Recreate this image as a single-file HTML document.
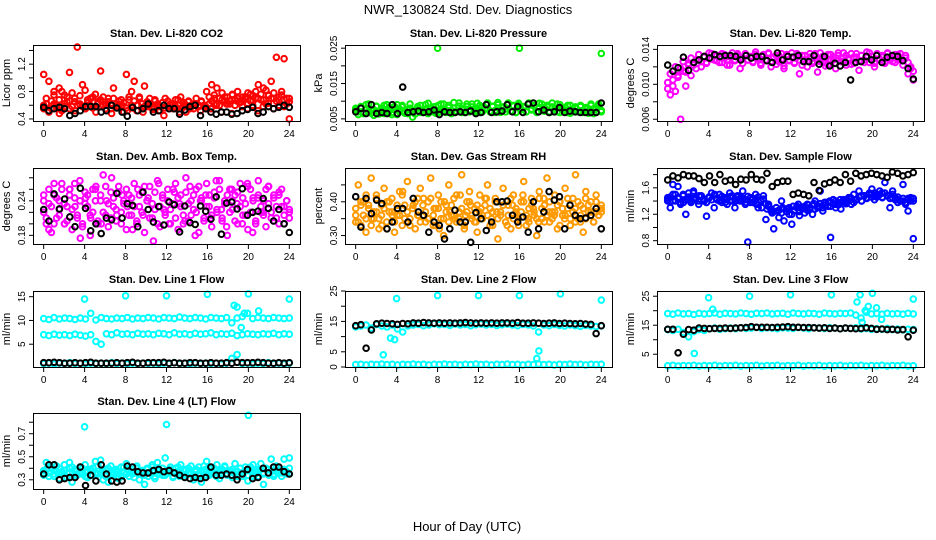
<!DOCTYPE html>
<html><head><meta charset="utf-8">
<style>
html,body{margin:0;padding:0;background:#fff;}
svg{display:block;font-family:"Liberation Sans",sans-serif;}
</style></head>
<body>
<svg id="chart" width="936" height="540" viewBox="0 0 936 540">
<rect width="936" height="540" fill="#fff"/>
<text x="468" y="14" text-anchor="middle" font-size="13">NWR_130824  Std. Dev. Diagnostics</text>
<text x="467" y="531" text-anchor="middle" font-size="13">Hour of Day (UTC)</text>
</svg>
<script>
// ---- data ----
const xTicks = [0,4,8,12,16,20,24];

const co2Red = [1.05,0.62,0.95,0.55,0.8,0.6,0.85,0.52,0.75,0.65,1.08,0.58,0.7,1.45,0.62,0.9,0.55,0.68,0.6,0.72,0.58,0.65,1.1,0.6,0.55,0.7,0.62,0.85,0.58,0.66,0.6,0.5,1.05,0.68,0.8,0.95,0.6,0.72,0.55,0.88,0.62,0.7,0.58,0.66,0.6,0.52,0.64,0.7,0.58,0.62,0.55,0.68,0.6,0.72,0.58,0.5,0.65,0.6,0.55,0.62,0.58,0.66,0.6,0.55,0.62,0.9,0.7,0.85,0.6,0.68,0.72,0.62,0.66,0.75,0.6,0.7,0.64,0.68,0.72,0.62,0.76,0.66,0.7,0.9,0.68,0.85,0.62,0.75,0.95,0.7,1.3,0.68,0.8,1.28,0.7,0.4];
const co2RedB = [0.55,0.5,0.62,0.48,0.58,0.66,0.52,0.6,0.55,0.7,0.5,0.58,0.62,0.48,0.57,0.6,0.52,0.56,0.6,0.5,0.58,0.54,0.6,0.45,0.55,0.58,0.5,0.62,0.55,0.6,0.52,0.58,0.55,0.6,0.5,0.62,0.48,0.66,0.58,0.55,0.6,0.52,0.58,0.63,0.55,0.6,0.58,0.65];
const co2RedC = [0.6,0.7,0.52,0.66,0.75,0.58,0.68,0.8,0.62,0.72,0.55,0.78,0.65,0.6,0.74,0.58,0.82,0.64,0.7,0.56,0.76,0.62,0.68,0.72,0.6,0.65,0.55,0.7,0.62,0.58,0.68,0.64,0.56,0.72,0.6,0.66,0.52,0.7,0.62,0.58,0.65,0.6,0.55,0.68,0.62,0.58,0.64,0.56,0.66,0.6,0.62,0.58,0.68,0.55,0.64,0.6,0.66,0.58,0.62,0.7,0.6,0.65,0.58,0.8,0.72,0.66,0.75,0.62,0.7,0.78,0.66,0.72,0.62,0.76,0.68,0.8,0.64,0.72,0.7,0.78,0.66,0.74,0.8,0.7,0.76,0.68,0.82,0.74,0.7,0.78,0.66,0.72,0.75,0.68,0.62,0.7];
const co2Black = [0.57,0.52,0.55,0.57,0.55,0.45,0.48,0.52,0.58,0.58,0.58,0.5,0.52,0.6,0.56,0.5,0.44,0.57,0.52,0.55,0.62,0.5,0.52,0.6,0.55,0.55,0.47,0.53,0.58,0.6,0.45,0.55,0.5,0.47,0.5,0.5,0.47,0.48,0.52,0.54,0.57,0.48,0.5,0.58,0.55,0.57,0.6,0.57];

const presGreen = [0.008,0.007,0.0085,0.0065,0.009,0.007,0.0075,0.006,0.0085,0.007,0.008,0.0065,0.009,0.0072,0.0068,0.0085,0.0062,0.0078,0.0088,0.007,0.0065,0.008,0.0055,0.0075,0.0085,0.0068,0.0072,0.009,0.0065,0.008,0.007,0.0085,0.0068,0.0092,0.0075,0.007,0.0088,0.0065,0.008,0.0072,0.0095,0.0068,0.0078,0.0085,0.007,0.0092,0.0075,0.0068,0.0088,0.007,0.008,0.0095,0.0072,0.0085,0.0068,0.009,0.0075,0.0082,0.007,0.0095,0.0072,0.0088,0.0068,0.009,0.0078,0.0085,0.007,0.0095,0.0075,0.0088,0.007,0.0082,0.0092,0.0072,0.0085,0.0068,0.0095,0.0078,0.007,0.009,0.0075,0.0082,0.0068,0.0088,0.0072,0.008,0.007,0.0085,0.0068,0.0078,0.0072,0.0088,0.0065,0.008,0.0092,0.007];
const presGreenB = [0.0075,0.0062,0.0082,0.0068,0.0078,0.0092,0.0066,0.0076,0.0086,0.0064,0.0074,0.0088,0.0068,0.0082,0.0062,0.0078,0.009,0.007,0.0084,0.0066,0.0076,0.0092,0.0072,0.0064,0.0082,0.0088,0.0068,0.0078,0.0094,0.0072,0.0084,0.0066,0.0088,0.0076,0.0092,0.0068,0.0082,0.0074,0.0096,0.007,0.0086,0.0078,0.0068,0.0092,0.0076,0.0084,0.0072,0.0094,0.0068,0.0082,0.0078,0.0092,0.007,0.0086,0.0074,0.0096,0.0068,0.0084,0.0078,0.0092,0.0072,0.0086,0.0068,0.0094,0.0076,0.0082,0.007,0.0092,0.0078,0.0086,0.0068,0.0094,0.0074,0.0082,0.0088,0.007,0.0084,0.0076,0.0092,0.0068,0.0082,0.0074,0.0088,0.0066,0.0078,0.0084,0.007,0.0088,0.0074,0.0082,0.0066,0.0092,0.0076,0.0068,0.0086,0.0074];
const presGreenOutHours = [8,16,24];
const presGreenOut = [0.025,0.025,0.0235];
const presBlack = [0.007,0.008,0.0065,0.009,0.0065,0.0068,0.0065,0.009,0.0065,0.014,0.0068,0.007,0.0072,0.0068,0.007,0.0075,0.0062,0.007,0.0068,0.0068,0.007,0.0068,0.0072,0.0065,0.0068,0.009,0.0068,0.007,0.0072,0.009,0.007,0.0085,0.0068,0.0092,0.0095,0.007,0.0075,0.0068,0.007,0.0082,0.0068,0.0072,0.007,0.0068,0.0068,0.0068,0.0068,0.0095];

const tempMag = [0.0095,0.0088,0.0105,0.0092,0.011,0.006,0.0115,0.0098,0.0122,0.011,0.0125,0.0118,0.0128,0.012,0.0132,0.0125,0.013,0.0135,0.0128,0.0133,0.0125,0.0135,0.013,0.0122,0.0132,0.0136,0.0128,0.0133,0.0118,0.013,0.0135,0.0128,0.0132,0.0125,0.0137,0.013,0.0122,0.0134,0.0128,0.0136,0.012,0.013,0.0133,0.0126,0.0135,0.0118,0.0132,0.0128,0.0136,0.0124,0.0131,0.0112,0.0133,0.0128,0.012,0.0135,0.0126,0.0132,0.0114,0.0136,0.0125,0.013,0.0122,0.0134,0.0128,0.0118,0.0133,0.0126,0.0136,0.0122,0.013,0.0135,0.0124,0.0131,0.0116,0.0133,0.0128,0.0137,0.0125,0.0132,0.012,0.0135,0.0128,0.0133,0.0124,0.0136,0.013,0.0126,0.0134,0.0128,0.0135,0.0122,0.013,0.0112,0.0118,0.0105];
const tempMagB = [0.0102,0.0112,0.0098,0.012,0.0108,0.0118,0.0126,0.0114,0.0124,0.013,0.0122,0.0128,0.0134,0.0126,0.0131,0.0124,0.0136,0.0129,0.0133,0.0127,0.0131,0.0125,0.0134,0.0128,0.0122,0.0132,0.0127,0.0135,0.013,0.0124,0.0133,0.0128,0.0131,0.0126,0.0134,0.0129,0.0124,0.0132,0.0127,0.0135,0.0126,0.0131,0.0123,0.0133,0.0128,0.0121,0.0134,0.0127,0.0131,0.0125,0.0135,0.0128,0.0122,0.0133,0.0127,0.0131,0.0124,0.0135,0.0129,0.0126,0.0132,0.0121,0.0134,0.0128,0.0131,0.0124,0.0136,0.013,0.0126,0.0133,0.0128,0.0123,0.0131,0.0135,0.0127,0.0133,0.0125,0.0131,0.0136,0.0128,0.0124,0.0134,0.0129,0.0131,0.0126,0.0135,0.0128,0.0132,0.0125,0.0134,0.013,0.0127,0.0133,0.0125,0.012,0.0115];
const tempBlack = [0.0122,0.0115,0.0119,0.0131,0.0116,0.0125,0.0128,0.0132,0.013,0.0134,0.0132,0.0133,0.0133,0.0132,0.0128,0.0133,0.013,0.0132,0.0132,0.0127,0.0125,0.0136,0.0128,0.0132,0.0131,0.0133,0.0126,0.0126,0.0133,0.0123,0.0132,0.0121,0.0124,0.0121,0.0125,0.0105,0.0125,0.0126,0.0132,0.0128,0.0133,0.0125,0.0131,0.0133,0.0132,0.0127,0.0118,0.0106];

const ambMag = [0.22,0.2,0.235,0.185,0.25,0.21,0.24,0.27,0.2,0.23,0.26,0.19,0.245,0.215,0.275,0.2,0.235,0.25,0.18,0.22,0.26,0.205,0.24,0.285,0.215,0.195,0.255,0.23,0.205,0.265,0.22,0.24,0.19,0.25,0.215,0.27,0.2,0.23,0.255,0.185,0.24,0.265,0.21,0.225,0.275,0.195,0.245,0.22,0.26,0.2,0.235,0.27,0.19,0.25,0.215,0.28,0.205,0.24,0.225,0.26,0.185,0.245,0.21,0.27,0.23,0.195,0.255,0.22,0.275,0.205,0.24,0.18,0.26,0.225,0.25,0.2,0.27,0.215,0.235,0.19,0.26,0.245,0.205,0.275,0.22,0.24,0.195,0.265,0.21,0.25,0.23,0.2,0.26,0.215,0.24,0.22];
const ambMagB = [0.25,0.19,0.27,0.225,0.2,0.26,0.23,0.175,0.245,0.21,0.265,0.2,0.24,0.28,0.215,0.25,0.23,0.19,0.26,0.215,0.245,0.17,0.27,0.225,0.2,0.255,0.235,0.205,0.265,0.18,0.24,0.25,0.21,0.275,0.225,0.195,0.26,0.235,0.2,0.27,0.185,0.245,0.22,0.265,0.205,0.25,0.23,0.21];
const ambMagC = [0.24,0.21,0.26,0.23,0.2,0.245,0.215,0.26,0.235,0.205,0.25,0.225,0.27,0.21,0.24,0.195,0.255,0.23,0.215,0.26,0.24,0.2,0.25,0.22,0.265,0.235,0.21,0.245,0.225,0.255,0.2,0.235,0.26,0.215,0.245,0.23,0.205,0.25,0.22,0.265,0.24,0.21,0.235,0.255,0.2,0.23,0.25,0.215,0.24,0.225,0.26,0.21,0.245,0.23,0.2,0.255,0.235,0.215,0.25,0.22,0.265,0.24,0.205,0.23,0.25,0.215,0.245,0.225,0.26,0.21,0.235,0.25,0.22,0.24,0.205,0.255,0.23,0.245,0.215,0.265,0.22,0.24,0.2,0.25,0.23,0.215,0.26,0.235,0.22,0.245,0.21,0.255,0.23,0.2,0.24,0.225];
const ambBlack = [0.225,0.205,0.252,0.226,0.243,0.212,0.195,0.262,0.227,0.188,0.2,0.183,0.21,0.207,0.253,0.21,0.235,0.232,0.195,0.255,0.225,0.203,0.23,0.198,0.238,0.233,0.186,0.231,0.202,0.199,0.231,0.222,0.208,0.247,0.182,0.236,0.238,0.226,0.261,0.215,0.22,0.222,0.244,0.227,0.205,0.225,0.2,0.185];

const rhOrange = [0.36,0.45,0.33,0.4,0.31,0.38,0.47,0.35,0.42,0.32,0.39,0.44,0.34,0.37,0.41,0.31,0.36,0.43,0.33,0.39,0.46,0.35,0.38,0.32,0.41,0.44,0.36,0.34,0.4,0.47,0.33,0.38,0.42,0.35,0.3,0.39,0.45,0.36,0.41,0.34,0.37,0.48,0.32,0.4,0.43,0.35,0.38,0.31,0.42,0.36,0.39,0.45,0.33,0.37,0.41,0.29,0.36,0.44,0.34,0.39,0.32,0.42,0.37,0.35,0.4,0.46,0.33,0.38,0.41,0.36,0.3,0.43,0.35,0.39,0.47,0.34,0.37,0.42,0.32,0.4,0.36,0.44,0.38,0.33,0.41,0.48,0.35,0.39,0.31,0.43,0.37,0.4,0.34,0.42,0.36,0.38];
const rhOrangeB = [0.34,0.39,0.42,0.35,0.37,0.33,0.4,0.36,0.38,0.43,0.34,0.39,0.36,0.41,0.35,0.38,0.32,0.4,0.37,0.35,0.42,0.36,0.39,0.34,0.38,0.41,0.35,0.37,0.4,0.33,0.39,0.36,0.42,0.35,0.38,0.34,0.41,0.37,0.36,0.4,0.35,0.39,0.38,0.34,0.41,0.36,0.37,0.39];
const rhOrangeC = [0.38,0.34,0.4,0.36,0.35,0.39,0.33,0.37,0.41,0.35,0.36,0.38,0.32,0.4,0.37,0.34,0.39,0.36,0.42,0.35,0.37,0.33,0.38,0.4,0.36,0.34,0.39,0.37,0.35,0.41,0.36,0.33,0.38,0.4,0.35,0.37,0.34,0.39,0.36,0.42,0.35,0.38,0.33,0.37,0.4,0.36,0.34,0.39,0.37,0.35,0.41,0.36,0.38,0.33,0.4,0.35,0.37,0.39,0.34,0.36,0.41,0.35,0.38,0.33,0.37,0.4,0.36,0.34,0.39,0.37,0.35,0.41,0.38,0.34,0.36,0.4,0.35,0.37,0.39,0.33,0.38,0.36,0.41,0.35,0.37,0.34,0.4,0.36,0.38,0.35,0.39,0.37,0.34,0.4,0.36,0.37];
const rhBlack = [0.415,0.325,0.41,0.365,0.405,0.395,0.32,0.34,0.38,0.38,0.34,0.41,0.37,0.36,0.31,0.34,0.33,0.29,0.32,0.375,0.34,0.34,0.28,0.368,0.35,0.315,0.34,0.4,0.4,0.402,0.36,0.34,0.355,0.31,0.4,0.32,0.37,0.43,0.405,0.415,0.32,0.39,0.36,0.35,0.352,0.36,0.38,0.32];

const flowBlue = [1.45,1.3,1.65,1.4,1.62,1.35,1.5,1.2,1.42,1.38,1.55,1.45,1.35,1.48,1.4,1.17,1.45,1.52,1.3,1.42,1.5,1.38,1.45,1.35,1.52,1.4,1.3,1.48,1.42,1.55,1.35,0.78,1.45,1.38,1.5,1.3,1.42,1.48,1.12,1.35,1.25,0.98,1.3,1.15,1.4,1.1,1.28,1.2,1.05,1.25,1.32,1.18,1.3,1.22,1.35,1.28,1.2,1.4,1.3,1.55,1.25,1.38,1.32,0.85,1.42,1.3,1.35,1.28,1.4,1.38,1.45,1.35,1.5,1.42,1.55,1.4,1.48,1.45,1.52,1.58,1.42,1.5,1.55,1.45,1.68,1.48,1.3,1.55,1.45,1.38,1.4,1.65,1.35,1.25,1.45,0.83];
const flowBlueB = [1.4,1.5,1.45,1.38,1.52,1.42,1.48,1.4,1.45,1.5,1.42,1.38,1.47,1.4,1.45,1.38,1.42,1.35,1.3,1.28,1.22,1.25,1.3,1.28,1.32,1.35,1.3,1.34,1.36,1.32,1.38,1.4,1.35,1.42,1.4,1.45,1.42,1.48,1.45,1.5,1.46,1.52,1.48,1.45,1.42,1.4,1.44,1.4];
const flowBlueC = [1.42,1.46,1.4,1.5,1.44,1.38,1.48,1.42,1.46,1.4,1.52,1.44,1.4,1.47,1.43,1.38,1.46,1.42,1.49,1.44,1.4,1.47,1.42,1.45,1.4,1.48,1.43,1.46,1.4,1.44,1.42,1.47,1.38,1.44,1.41,1.46,1.4,1.43,1.36,1.32,1.28,1.24,1.3,1.26,1.22,1.28,1.24,1.3,1.2,1.26,1.3,1.24,1.28,1.32,1.26,1.3,1.34,1.28,1.32,1.36,1.3,1.34,1.38,1.32,1.36,1.4,1.34,1.38,1.42,1.36,1.4,1.44,1.38,1.42,1.46,1.4,1.48,1.44,1.5,1.46,1.52,1.48,1.5,1.46,1.52,1.48,1.44,1.5,1.42,1.46,1.4,1.44,1.38,1.42,1.4,1.44];
const flowBlack = [1.72,1.78,1.75,1.8,1.78,1.78,1.74,1.68,1.78,1.68,1.8,1.7,1.72,1.65,1.73,1.72,1.8,1.73,1.72,1.82,1.62,1.68,1.7,1.7,1.5,1.52,1.5,1.48,1.68,1.56,1.66,1.68,1.72,1.68,1.8,1.7,1.82,1.78,1.8,1.82,1.8,1.78,1.76,1.84,1.82,1.78,1.8,1.83];

const l1High = [10.4,10.2,10.6,10.3,10.5,10.4,10.2,10.5,10.3,11.5,10.1,10.6,10.4,10.3,10.5,10.4,10.6,10.3,10.5,10.4,10.6,10.5,10.3,10.6,10.5,10.4,10.7,10.5,10.4,10.6,10.5,10.3,10.6,10.5,10.4,10.6,9.5,10.5,10.8,11.5,10.4,10.6,10.5,10.4,10.6,10.5,10.4,10.5];
const l1Mid = [7.0,6.8,7.1,6.9,7.0,6.8,7.1,6.9,6.7,7.0,5.6,5.0,7.2,7.0,7.4,7.1,7.2,7.0,7.3,7.1,7.2,7.0,7.3,7.2,7.0,7.4,7.1,7.2,7.0,7.3,7.1,7.2,7.4,7.0,7.2,7.1,7.3,6.8,7.0,7.2,7.1,7.0,7.2,7.1,7.3,7.0,7.2,7.1];
const l1Low = [0.9,1.0,0.8,1.0,0.9,1.1,0.9,1.0,0.8,1.0,0.9,1.0,0.9,1.1,0.9,1.0,0.8,1.0,0.9,1.0,0.9,1.0,0.8,1.0,0.9,1.1,0.9,1.0,0.8,1.0,0.9,1.0,0.9,1.0,0.8,1.0,2.0,2.8,0.9,1.0,0.8,1.0,0.9,1.1,0.9,1.0,0.8,1.0];
const l1OutHours = [4,8,12,16,18.6,18.9,19.3,19.6,20,21,24];
const l1Out = [14.5,15.2,15.2,15.5,13.2,12.8,8.5,11.5,15.6,12,14.5];
const l1Black = [1.1,1.1,1.2,1.1,1.0,1.0,1.1,1.0,1.1,1.2,1.0,1.0,1.0,1.0,1.1,1.0,1.1,1.2,1.0,1.0,1.1,1.1,1.1,1.2,1.0,1.1,1.0,1.0,1.1,1.1,1.0,1.0,1.1,1.0,1.0,1.1,1.0,1.2,1.1,1.1,1.1,1.2,1.1,1.0,1.0,1.1,1.0,1.1];

const l2High = [13.2,13.5,13.8,12.8,14.0,13.5,13.2,13.8,12.5,11.5,13.5,13.8,14.0,13.6,13.8,14.2,13.9,14.0,13.7,14.1,13.8,14.0,13.6,13.9,14.1,13.8,14.0,13.7,13.9,14.1,13.8,13.6,14.0,13.8,13.5,11.5,13.8,13.6,14.0,13.7,13.5,13.8,13.6,13.4,13.7,13.5,13.3,13.5];
const l2Low = [0.8,0.9,0.7,0.9,0.8,1.0,0.8,0.9,0.7,0.9,0.8,1.0,0.8,0.9,0.7,0.9,0.8,1.0,0.8,0.9,0.7,0.9,0.8,1.0,0.8,0.9,0.7,0.9,0.8,1.0,0.8,0.9,0.7,0.9,0.8,1.0,0.8,0.9,0.7,0.9,0.8,1.0,0.8,0.9,0.7,0.9,0.8,0.9];
const l2OutHours = [2.7,3.4,3.8,4,8,12,16,17.7,17.9,20,24];
const l2Out = [4,9.5,9,22.5,23.5,23.5,23.5,2.8,5.3,24,22];
const l2Black = [13.6,13.9,6.2,12.2,14.2,14.4,14.3,14.2,14.0,14.3,14.2,14.5,14.4,14.6,14.5,14.4,14.5,14.4,14.5,14.4,14.5,14.6,14.5,14.4,14.5,14.4,14.5,14.4,14.5,14.5,14.4,14.6,14.4,14.4,14.5,14.4,14.3,14.4,14.5,14.3,14.4,14.3,14.2,14.3,14.1,14.0,11.0,13.6];

const l3High = [19.0,18.8,19.2,18.9,19.0,18.7,19.1,18.9,19.0,19.2,18.8,19.1,19.0,18.9,19.2,19.0,18.8,19.1,19.0,19.2,18.9,19.0,19.1,18.8,19.2,19.0,18.9,19.1,19.0,18.8,19.2,19.0,18.9,19.1,19.0,19.2,18.5,17.5,19.5,18.9,19.0,18.8,19.1,18.9,19.0,18.8,19.1,18.9];
const l3Mid = [13.5,13.2,13.6,12.5,11.0,12.8,13.5,13.2,13.8,14.0,13.6,13.8,14.0,13.8,14.1,13.9,14.0,14.2,13.9,14.1,14.0,13.8,14.1,14.0,13.9,14.2,14.0,13.8,14.1,14.0,13.9,14.1,14.0,13.8,14.0,13.9,14.1,13.7,13.9,13.6,13.8,13.6,13.9,13.5,13.7,13.4,13.6,13.5];
const l3Low = [1.0,1.2,0.9,1.1,1.0,1.2,0.9,1.1,1.0,1.2,0.9,1.1,1.0,1.2,0.9,1.1,1.0,1.2,0.9,1.1,1.0,1.2,0.9,1.1,1.0,1.2,0.9,1.1,1.0,1.2,0.9,1.1,1.0,1.2,0.9,1.1,1.0,1.2,0.9,1.1,1.0,1.2,0.9,1.1,1.0,1.2,0.9,1.0];
const l3OutHours = [2.6,4,4.4,8,12,16,18.5,18.8,19.0,19.3,19.6,20,20.4,20.9,24];
const l3Out = [5.3,24.5,20.5,25,25.5,25.5,23,25.5,16,20,21.5,26,21,17,24];
const l3Black = [13.6,13.6,5.5,11.9,13.5,13.3,14.0,13.9,13.8,13.9,13.9,14.0,13.9,14.0,14.1,14.2,14.5,14.3,14.3,14.3,14.2,14.3,14.4,14.5,14.3,14.3,14.2,14.2,14.1,14.0,14.1,13.9,14.0,13.8,14.0,13.9,13.8,13.9,14.1,13.9,13.6,13.7,13.5,13.6,13.4,13.5,11.0,13.3];

const l4Cyan = [0.38,0.45,0.33,0.4,0.35,0.42,0.31,0.37,0.43,0.36,0.45,0.28,0.39,0.34,0.41,0.36,0.43,0.32,0.38,0.4,0.46,0.35,0.47,0.3,0.39,0.28,0.42,0.35,0.38,0.31,0.41,0.36,0.44,0.33,0.39,0.37,0.42,0.3,0.38,0.26,0.4,0.36,0.43,0.31,0.45,0.38,0.34,0.49,0.36,0.41,0.32,0.4,0.37,0.43,0.34,0.39,0.35,0.42,0.3,0.38,0.41,0.28,0.37,0.46,0.34,0.4,0.36,0.43,0.31,0.39,0.42,0.35,0.38,0.32,0.44,0.37,0.4,0.33,0.41,0.29,0.38,0.43,0.35,0.39,0.44,0.26,0.4,0.36,0.48,0.33,0.41,0.38,0.36,0.48,0.35,0.49];
const l4CyanB = [0.36,0.33,0.38,0.35,0.32,0.4,0.34,0.37,0.33,0.39,0.35,0.36,0.38,0.34,0.37,0.33,0.39,0.35,0.36,0.38,0.33,0.37,0.35,0.34,0.39,0.36,0.33,0.38,0.35,0.37,0.34,0.39,0.36,0.33,0.38,0.35,0.37,0.34,0.36,0.38,0.33,0.37,0.35,0.39,0.34,0.36,0.38,0.35];
const l4CyanC = [0.34,0.39,0.36,0.41,0.33,0.37,0.4,0.35,0.38,0.32,0.36,0.41,0.34,0.38,0.35,0.4,0.33,0.37,0.39,0.34,0.36,0.42,0.35,0.38,0.33,0.4,0.36,0.34,0.39,0.37,0.33,0.41,0.35,0.38,0.36,0.32,0.4,0.35,0.37,0.34,0.39,0.36,0.41,0.33,0.38,0.35,0.4,0.34,0.37,0.39,0.33,0.36,0.41,0.35,0.38,0.34,0.4,0.36,0.33,0.39,0.35,0.38,0.42,0.34,0.37,0.35,0.4,0.33,0.38,0.36,0.41,0.34,0.37,0.39,0.35,0.33,0.4,0.36,0.38,0.34,0.41,0.35,0.37,0.33,0.39,0.36,0.4,0.34,0.38,0.35,0.42,0.36,0.33,0.39,0.37,0.4];
const l4OutHours = [4,12,20];
const l4Out = [0.76,0.78,0.86];
const l4Black = [0.35,0.43,0.43,0.3,0.31,0.32,0.32,0.41,0.25,0.34,0.29,0.43,0.35,0.29,0.28,0.29,0.42,0.41,0.37,0.36,0.36,0.38,0.39,0.37,0.38,0.36,0.34,0.32,0.31,0.32,0.31,0.32,0.41,0.34,0.34,0.35,0.34,0.3,0.35,0.39,0.31,0.32,0.4,0.36,0.41,0.41,0.37,0.35];

// ---- layout ----
const svgNS = "http://www.w3.org/2000/svg";
const svg = document.getElementById('chart');
const colLeft = [33, 345, 657];
const boxW = 267;
const rowTop = [45, 168, 291, 413];
const boxH = 76;

function mk(tag, attrs, parent) {
  const e = document.createElementNS(svgNS, tag);
  for (const k in attrs) e.setAttribute(k, attrs[k]);
  (parent || svg).appendChild(e);
  return e;
}

const panels = [
  {key:'co2', title:'Stan. Dev. Li-820 CO2', ylab:'Licor ppm', col:0, row:0, ymin:0.37, ymax:1.48, ticks:[0.4,0.6,0.8,1.0,1.2,1.4], labels:['0.4','','0.8','','1.2',''],
   series:[{v:co2Red,c:'#ff0000'},{v:co2RedB,c:'#ff0000'},{v:co2RedC,c:'#ff0000'},{v:co2Black,c:'#000000'}]},
  {key:'pressure', title:'Stan. Dev. Li-820 Pressure', ylab:'kPa', col:1, row:0, ymin:0.0044, ymax:0.0259, ticks:[0.005,0.01,0.015,0.02,0.025], labels:['0.005','','0.015','','0.025'],
   series:[{v:presGreen,c:'#00ee00'},{v:presGreenB,c:'#00ee00'},{v:presGreenOut,h:presGreenOutHours,c:'#00ee00'},{v:presBlack,c:'#000000'}]},
  {key:'temp', title:'Stan. Dev. Li-820 Temp.', ylab:'degrees C', col:2, row:0, ymin:0.0058, ymax:0.0145, ticks:[0.006,0.008,0.01,0.012,0.014], labels:['0.006','','0.010','','0.014'],
   series:[{v:tempMag,c:'#ff00ff'},{v:tempMagB,c:'#ff00ff'},{v:tempBlack,c:'#000000'}]},
  {key:'ambbox', title:'Stan. Dev. Amb. Box Temp.', ylab:'degrees C', col:0, row:1, ymin:0.165, ymax:0.297, ticks:[0.18,0.2,0.22,0.24,0.26,0.28], labels:['0.18','','','0.24','',''],
   series:[{v:ambMag,c:'#ff00ff'},{v:ambMagB,c:'#ff00ff'},{v:ambMagC,c:'#ff00ff'},{v:ambBlack,c:'#000000'}]},
  {key:'rh', title:'Stan. Dev. Gas Stream RH', ylab:'percent', col:1, row:1, ymin:0.275, ymax:0.5, ticks:[0.3,0.35,0.4,0.45], labels:['0.30','','0.40',''],
   series:[{v:rhOrange,c:'#ff9a00'},{v:rhOrangeB,c:'#ff9a00'},{v:rhOrangeC,c:'#ff9a00'},{v:rhBlack,c:'#000000'}]},
  {key:'sampleflow', title:'Stan. Dev. Sample Flow', ylab:'ml/min', col:2, row:1, ymin:0.75, ymax:1.9, ticks:[0.8,1.0,1.2,1.4,1.6,1.8], labels:['0.8','','1.2','','1.6',''],
   series:[{v:flowBlue,c:'#0000ff'},{v:flowBlueB,c:'#0000ff'},{v:flowBlueC,c:'#0000ff'},{v:flowBlack,c:'#000000'}]},
  {key:'line1', title:'Stan. Dev. Line 1 Flow', ylab:'ml/min', col:0, row:2, ymin:0.2, ymax:16.2, ticks:[5,10,15], labels:['5','10','15'],
   series:[{v:l1High,c:'#00ffff'},{v:l1Mid,c:'#00ffff'},{v:l1Low,c:'#00ffff'},{v:l1Out,h:l1OutHours,c:'#00ffff'},{v:l1Black,c:'#000000'}]},
  {key:'line2', title:'Stan. Dev. Line 2 Flow', ylab:'ml/min', col:1, row:2, ymin:0, ymax:25, ticks:[0,5,10,15,20,25], labels:['0','5','','15','','25'],
   series:[{v:l2High,c:'#00ffff'},{v:l2Low,c:'#00ffff'},{v:l2Out,h:l2OutHours,c:'#00ffff'},{v:l2Black,c:'#000000'}]},
  {key:'line3', title:'Stan. Dev. Line 3 Flow', ylab:'ml/min', col:2, row:2, ymin:0.6, ymax:26.8, ticks:[5,10,15,20,25], labels:['5','','15','','25'],
   series:[{v:l3High,c:'#00ffff'},{v:l3Mid,c:'#00ffff'},{v:l3Low,c:'#00ffff'},{v:l3Out,h:l3OutHours,c:'#00ffff'},{v:l3Black,c:'#000000'}]},
  {key:'line4', title:'Stan. Dev. Line 4 (LT) Flow', ylab:'ml/min', col:0, row:3, ymin:0.22, ymax:0.88, ticks:[0.3,0.4,0.5,0.6,0.7,0.8], labels:['0.3','','0.5','','0.7',''],
   series:[{v:l4Cyan,c:'#00ffff'},{v:l4CyanB,c:'#00ffff'},{v:l4CyanC,c:'#00ffff'},{v:l4Out,h:l4OutHours,c:'#00ffff'},{v:l4Black,c:'#000000'}]}
];

panels.forEach(p => {
  const L = colLeft[p.col], T = rowTop[p.row], B = T + boxH, R = L + boxW;
  const g = mk('g', {});
  
  
  const xs = h => L + boxW * (0.04 + 0.92 * h / 24);
  const ys = v => B - (v - p.ymin) / (p.ymax - p.ymin) * boxH;

  const t = mk('text', {x: L + boxW/2, y: T - 8, 'text-anchor':'middle', 'font-size':'11', 'font-weight':'bold', 'textLength':'', }, g);
  t.removeAttribute('textLength');
  t.textContent = p.title;
  
  

  const yl = mk('text', {x: L - 23, y: (T+B)/2, 'text-anchor':'middle', 'font-size':'11', transform:`rotate(-90 ${L-23} ${(T+B)/2})`}, g);
  yl.textContent = p.ylab;
  
  

  const sg = mk('g', {}, g);
  p.series.forEach(s => {
    const n = s.v.length;
    s.v.forEach((val, i) => {
      const h = s.h ? s.h[i] : (n > 1 ? i * 24 / (n - 1) : 0);
      const c = mk('circle', {cx: xs(h).toFixed(1), cy: ys(val).toFixed(1), r: 2.8, fill:'none', stroke: s.c, 'stroke-width': 2}, sg);
      
      
    });
  });

  const box = mk('rect', {x: L + 0.5, y: T + 0.5, width: boxW, height: boxH, fill:'none', stroke:'#000', 'stroke-width':1}, g);
  
  

  xTicks.forEach(h => {
    const x = xs(h);
    mk('line', {x1:x, x2:x, y1:B+0.5, y2:B+5, stroke:'#000'}, g);
    const lt = mk('text', {x:x, y:B+16, 'text-anchor':'middle', 'font-size':'10'}, g);
    lt.textContent = String(h);
    
    
  });
  p.ticks.forEach((v, i) => {
    const y = ys(v);
    mk('line', {x1:L-4, x2:L+0.5, y1:y, y2:y, stroke:'#000'}, g);
    if (p.labels[i]) {
      const lt = mk('text', {x:L-8, y:y, 'text-anchor':'middle', 'font-size':'10', transform:`rotate(-90 ${L-8} ${y})`}, g);
      lt.textContent = p.labels[i];
      
      
    }
  });
});
</script>
</body></html>
